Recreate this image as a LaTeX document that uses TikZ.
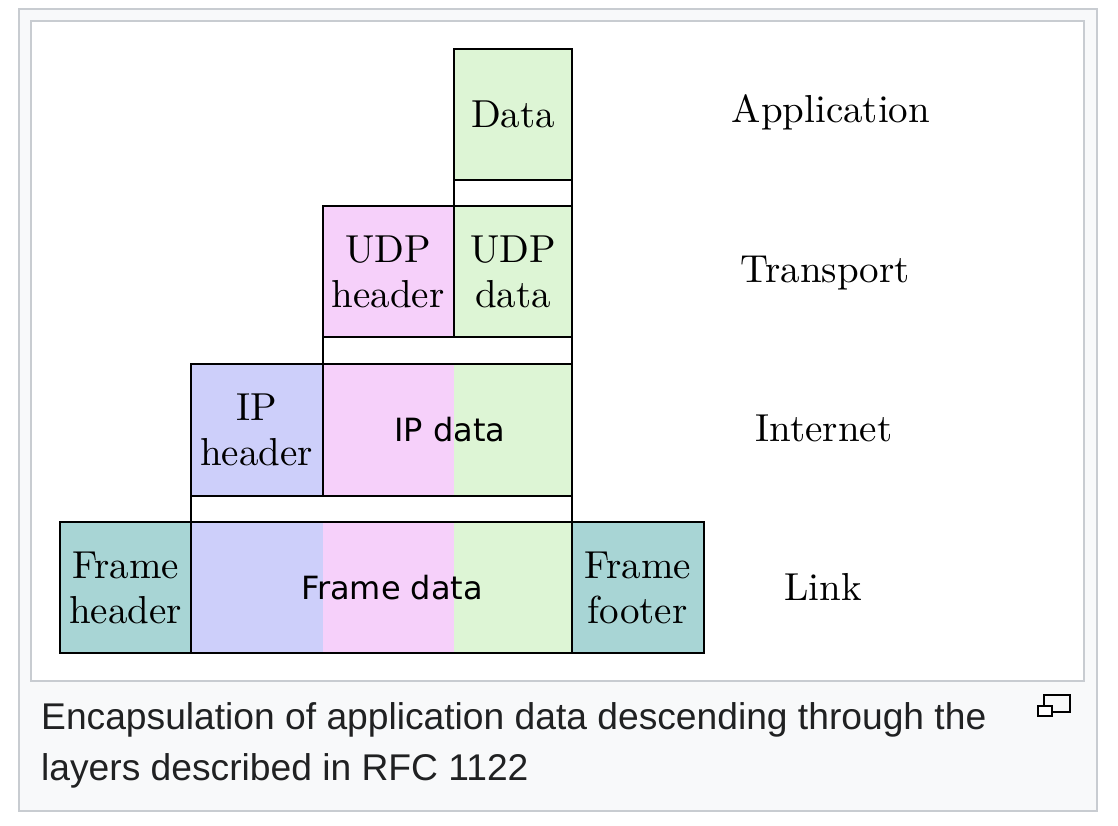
\documentclass[tikz,border=0pt]{standalone}
\usepackage{fontspec}
\setmainfont{Liberation Sans}
\newfontfamily\cmten{lmroman10-regular.otf}
\newfontfamily\dejavu{DejaVu Sans}
\definecolor{framegray}{RGB}{200,204,209}
\definecolor{capbg}{RGB}{248,249,250}
\definecolor{captext}{RGB}{32,33,34}
\definecolor{appgreen}{RGB}{221,245,213}
\definecolor{udppink}{RGB}{246,208,250}
\definecolor{ipblue}{RGB}{205,207,250}
\definecolor{linkteal}{RGB}{168,213,213}
\tikzset{
  box/.style={draw=black, line width=2pt},
  serif/.style={font=\cmten\fontsize{39}{45}\selectfont, align=center, inner sep=0pt},
  sans/.style={font=\dejavu\fontsize{32}{38}\selectfont, inner sep=0pt},
  captionline/.style={font=\fontsize{37.2}{44}\selectfont, text=captext, anchor=base west, inner sep=0pt}
}
\begin{document}
\begin{tikzpicture}[x=1pt,y=-1pt]
\useasboundingbox (0,0) rectangle (1118,826);

% thumbnail frame
\fill[color=white] (0,0) rectangle (1118,826);
\filldraw[fill=capbg, draw=framegray, line width=2pt] (19,9) rectangle (1097,811);
\filldraw[fill=white, draw=framegray, line width=2pt] (31,21) rectangle (1084,681);

% application layer
\fill[color=appgreen] (454,49) rectangle (572,180);
\draw[box] (454,49) rectangle (572,180);
\node[serif] (data) at (513,114.5) {Data};
\draw[box] (454,180) rectangle (572,206);

% transport layer
\fill[color=udppink] (322.5,206) rectangle (454,337);
\fill[color=appgreen] (454,206) rectangle (572,337);
\draw[box] (322.5,206) rectangle (454,337);
\draw[box] (454,206) rectangle (572,337);
\node[serif] (udphead) at (388,272) {UDP\\header};
\node[serif] (udpdata) at (513,272) {UDP\\data};
\draw[box] (322.5,337) rectangle (572,364);

% internet layer
\fill[color=ipblue] (191,364) rectangle (322.5,496);
\fill[color=udppink] (322.5,364) rectangle (454,496);
\fill[color=appgreen] (454,364) rectangle (572,496);
\draw[box] (191,364) rectangle (322.5,496);
\draw[box] (322.5,364) rectangle (572,496);
\node[serif] (iphead) at (256.5,430) {IP\\header};
\node[sans] (ipdata) at (450,430) {IP data};
\draw[box] (191,496) rectangle (572,522);

% link layer
\fill[color=linkteal] (60,522) rectangle (191,653);
\fill[color=ipblue] (191,522) rectangle (322.5,653);
\fill[color=udppink] (322.5,522) rectangle (454,653);
\fill[color=appgreen] (454,522) rectangle (572,653);
\fill[color=linkteal] (572,522) rectangle (703.5,653);
\draw[box] (60,522) rectangle (191,653);
\draw[box] (191,522) rectangle (572,653);
\draw[box] (572,522) rectangle (703.5,653);
\node[serif] (framehead) at (125.5,588) {Frame\\header};
\node[sans] (framedata) at (392,588) {Frame data};
\node[serif] (framefoot) at (637.5,588) {Frame\\footer};

% layer names
\node[serif, anchor=base] (application) at (831,123) {Application};
\node[serif, anchor=base] (transport) at (825,282) {Transport};
\node[serif, anchor=base] (internet) at (824,441) {Internet};
\node[serif, anchor=base] (link) at (823,600) {Link};

% caption
\node[captionline] (caption1) at (41,729) {Encapsulation of application data descending through the};
\node[captionline] (caption2) at (41,780) {layers described in RFC 1122};

% enlarge icon
\draw[color=black, line width=2.2pt] (1044,695) rectangle (1070,712);
\filldraw[fill=white, draw=black, line width=2.2pt] (1038,706) rectangle (1052,716);

\end{tikzpicture}
\end{document}
